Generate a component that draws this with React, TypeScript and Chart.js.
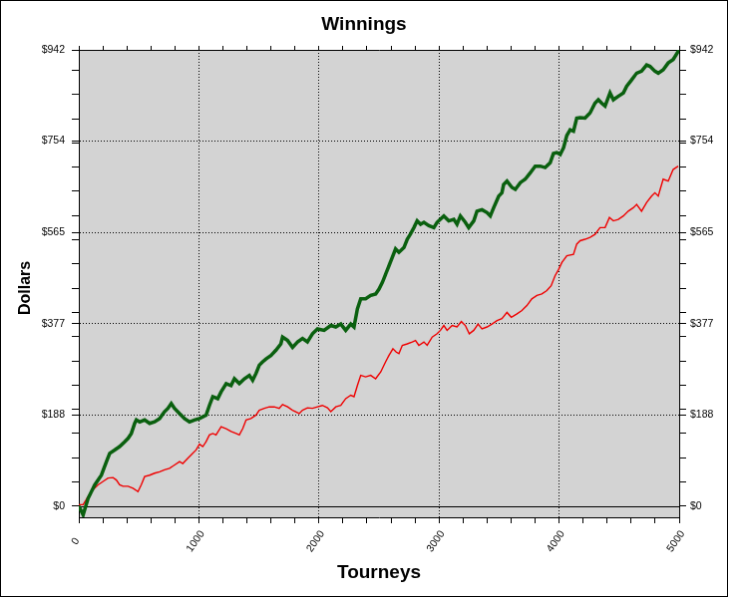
import { useEffect, useRef } from 'react';
import { Chart, registerables } from 'chart.js';

Chart.register(...registerables);

// ---- Data ----
const greenTourneys = [
  0, 36, 77, 133, 188, 230, 257, 299, 340, 382, 410, 437, 465, 479, 507, 548, 590, 631, 673, 714,
  742, 770, 797, 839, 880, 922, 963, 1005, 1060, 1088, 1116, 1157, 1185, 1227, 1268, 1296, 1337, 1379, 1420, 1448,
  1476, 1503, 1531, 1559, 1600, 1642, 1683, 1697, 1739, 1780, 1822, 1863, 1904, 1946, 1988, 2043, 2099, 2140, 2182, 2223,
  2265, 2292, 2320, 2348, 2389, 2431, 2472, 2500, 2528, 2555, 2583, 2611, 2638, 2666, 2708, 2735, 2763, 2791, 2818, 2846,
  2874, 2915, 2957, 2984, 3040, 3081, 3123, 3150, 3178, 3219, 3247, 3289, 3316, 3358, 3400, 3427, 3455, 3497, 3524, 3538,
  3566, 3607, 3635, 3677, 3718, 3760, 3801, 3843, 3884, 3926, 3953, 3981, 4009, 4037, 4064, 4092, 4120, 4147, 4175, 4216,
  4258, 4299, 4327, 4355, 4383, 4424, 4452, 4493, 4535, 4563, 4604, 4646, 4687, 4729, 4757, 4798, 4826, 4867, 4909, 4950,
  4992, 5000,
];
const greenDollars = [
  0, -18, 16, 44, 64, 92, 109, 116, 123, 133, 140, 150, 171, 178, 174, 178, 171, 174, 181, 195,
  202, 212, 202, 191, 181, 174, 178, 181, 188, 208, 226, 222, 236, 253, 249, 263, 253, 263, 270, 260,
  274, 291, 298, 304, 311, 322, 335, 349, 342, 328, 339, 346, 339, 356, 366, 363, 373, 370, 376, 363,
  376, 370, 407, 428, 428, 435, 438, 448, 462, 479, 496, 514, 531, 524, 534, 551, 562, 575, 589, 582,
  586, 579, 575, 586, 599, 589, 592, 582, 599, 586, 575, 589, 609, 612, 606, 599, 616, 640, 647, 664,
  671, 658, 654, 668, 675, 688, 702, 702, 699, 709, 728, 730, 726, 740, 765, 777, 774, 801, 802, 801,
  812, 832, 839, 832, 826, 853, 839, 846, 853, 867, 880, 894, 898, 911, 908, 898, 894, 901, 915, 922,
  939, 942,
];
const redTourneys = [
  0, 36, 77, 119, 160, 202, 243, 285, 313, 340, 368, 410, 451, 493, 520, 548, 590, 631, 673, 714,
  756, 797, 839, 866, 908, 949, 977, 1005, 1032, 1060, 1088, 1116, 1143, 1185, 1227, 1268, 1310, 1337, 1365, 1393,
  1434, 1476, 1503, 1545, 1586, 1628, 1669, 1697, 1739, 1780, 1836, 1863, 1904, 1946, 1988, 2029, 2071, 2099, 2140, 2182,
  2223, 2265, 2292, 2320, 2348, 2389, 2431, 2472, 2514, 2555, 2583, 2616, 2644, 2666, 2694, 2735, 2777, 2804, 2832, 2874,
  2901, 2943, 2984, 3012, 3040, 3067, 3109, 3150, 3186, 3219, 3252, 3289, 3325, 3358, 3400, 3441, 3483, 3524, 3566, 3602,
  3649, 3690, 3732, 3773, 3815, 3856, 3898, 3934, 3967, 3995, 4023, 4064, 4120, 4147, 4175, 4216, 4258, 4299, 4341, 4383,
  4419, 4452, 4493, 4535, 4576, 4618, 4646, 4687, 4729, 4770, 4798, 4826, 4867, 4909, 4950, 4992,
];
const redDollars = [
  3, 3, 20, 34, 44, 51, 58, 59, 54, 44, 41, 41, 37, 30, 44, 61, 64, 68, 71, 75,
  78, 85, 92, 88, 99, 109, 116, 128, 123, 133, 147, 150, 147, 164, 160, 154, 150, 147, 160, 178,
  181, 188, 198, 202, 205, 205, 202, 210, 205, 198, 191, 198, 203, 202, 205, 208, 203, 195, 205, 208,
  222, 229, 226, 249, 270, 267, 270, 263, 277, 298, 311, 325, 318, 315, 332, 335, 339, 342, 332, 339,
  332, 349, 356, 363, 373, 363, 373, 370, 381, 373, 356, 363, 376, 366, 370, 376, 383, 387, 400, 390,
  397, 404, 414, 428, 435, 438, 445, 455, 476, 488, 503, 517, 520, 541, 548, 551, 555, 561, 575, 575,
  596, 589, 592, 599, 609, 616, 623, 609, 627, 640, 647, 640, 675, 671, 695, 702,
];

const yMajorValues = [0, 188.4, 376.8, 565.2, 753.6, 942];
const yTickLabels = ['$0', '$188', '$377', '$565', '$754', '$942'];
const yMinorValues = [50, 100, 150, 200, 250, 300, 350, 400, 450, 500, 550, 600, 650, 700, 750, 800, 850, 900];
const xMajorValues = [0, 1000, 2000, 3000, 4000, 5000];
const xTickLabels = ['0', '1000', '2000', '3000', '4000', '5000'];
const xMinorValues = [200, 400, 600, 800, 1200, 1400, 1600, 1800, 2200, 2400, 2600, 2800, 3200, 3400, 3600, 3800, 4200, 4400, 4600, 4800];

const FONT = "'Liberation Sans', Arial, sans-serif";

const isMajorY = (v: number) => yMajorValues.some((m) => Math.abs(m - v) < 1e-6);
const isMajorX = (v: number) => xMajorValues.some((m) => Math.abs(m - v) < 1e-6);

const buildY = (axis: any) => {
  axis.ticks = [...yMajorValues, ...yMinorValues].sort((a, b) => a - b).map((v) => ({ value: v }));
};
const buildX = (axis: any) => {
  axis.ticks = [...xMajorValues, ...xMinorValues].sort((a, b) => a - b).map((v) => ({ value: v }));
};
const yLabel = (v: any) => {
  const i = yMajorValues.findIndex((m) => Math.abs(m - Number(v)) < 1e-6);
  return i >= 0 ? yTickLabels[i] : '';
};
// rotated labels are centred on their tick in the reference: pad short labels so that
// their visible centre lines up like the 4-digit ones
const xLabel = (v: any) => {
  const i = xMajorValues.findIndex((m) => Math.abs(m - Number(v)) < 1e-6);
  if (i < 0) return '';
  const s = xTickLabels[i];
  return s + ' '.repeat(Math.max(0, 4 - s.length));
};

const plotBg = {
  id: 'plotBg',
  beforeDraw(chart: any) {
    const { ctx, chartArea: a } = chart;
    ctx.save();
    ctx.fillStyle = '#d3d3d3';
    ctx.fillRect(a.left, a.top, a.right - a.left, a.bottom - a.top);
    ctx.restore();
  },
};

const zeroLine = {
  id: 'zeroLine',
  beforeDatasetsDraw(chart: any) {
    const { ctx, chartArea: a, scales } = chart;
    const y = Math.round(scales.y.getPixelForValue(0)) + 0.5;
    ctx.save();
    ctx.strokeStyle = '#000';
    ctx.lineWidth = 1;
    ctx.beginPath();
    ctx.moveTo(a.left, y);
    ctx.lineTo(a.right, y);
    ctx.stroke();
    ctx.restore();
  },
};

export default function App() {
  const ref = useRef<HTMLCanvasElement | null>(null);

  useEffect(() => {
    if (!ref.current) return;
    const tickFont = { family: FONT, size: 10.5 };

    const chart = new Chart(ref.current, {
      type: 'line',
      data: {
        datasets: [
          {
            label: 'Green',
            data: greenTourneys.map((t, i) => ({ x: t, y: greenDollars[i] })),
            borderColor: '#0a600f',
            borderWidth: 3.5,
            pointRadius: 0,
            tension: 0,
            fill: false,
          },
          {
            label: 'Red',
            data: redTourneys.map((t, i) => ({ x: t, y: redDollars[i] })),
            borderColor: '#f00000',
            borderWidth: 1.4,
            pointRadius: 0,
            tension: 0,
            fill: false,
          },
        ],
      },
      options: {
        animation: false,
        responsive: false,
        events: [],
        layout: { padding: 0 },
        plugins: {
          legend: { display: false },
          tooltip: { enabled: false },
          title: {
            display: true,
            text: 'Winnings',
            color: '#000',
            font: { family: FONT, size: 19, weight: 'bold', lineHeight: '20px' } as any,
            padding: { top: 14, bottom: 8 },
          },
        },
        scales: {
          x: {
            type: 'linear',
            position: 'bottom',
            min: 0,
            max: 5000,
            afterBuildTicks: buildX,
            afterFit: (s: any) => { s.height = 79; },
            ticks: {
              autoSkip: false,
              minRotation: 55,
              maxRotation: 55,
              padding: 5,
              labelOffset: 3.5,
              color: '#000',
              font: tickFont,
              callback: xLabel,
            },
            grid: {
              color: (c: any) => (c.tick && isMajorX(c.tick.value) && c.tick.value > 0 && c.tick.value < 5000 ? '#000' : 'rgba(0,0,0,0)'),
              tickColor: '#000',
              tickLength: 6,
              lineWidth: 1,
            },
            border: { display: true, color: '#000', width: 1, dash: [1, 2] },
            title: {
              display: true,
              text: 'Tourneys',
              color: '#000',
              font: { family: FONT, size: 19, weight: 'bold' },
              padding: { top: 0, bottom: 11.5 },
            },
          },
          x2: {
            type: 'linear',
            position: 'top',
            min: 0,
            max: 5000,
            afterBuildTicks: buildX,
            afterFit: (s: any) => { s.height = 7; },
            ticks: { display: false, autoSkip: false },
            grid: { drawOnChartArea: false, tickColor: '#000', tickLength: 4 },
            border: { display: true, color: '#000', width: 1 },
          },
          y: {
            type: 'linear',
            position: 'left',
            min: -23,
            max: 942,
            afterBuildTicks: buildY,
            afterFit: (s: any) => { s.width = 78; },
            ticks: { autoSkip: false, padding: 7, color: '#000', font: tickFont, callback: yLabel },
            grid: {
              color: (c: any) => (c.tick && isMajorY(c.tick.value) && c.tick.value > 0 && c.tick.value < 942 ? '#000' : 'rgba(0,0,0,0)'),
              tickColor: '#000',
              tickLength: 7,
              lineWidth: 1,
            },
            border: { display: true, color: '#000', width: 1, dash: [1, 2] },
            title: {
              display: true,
              text: 'Dollars  ',
              color: '#000',
              font: { family: FONT, size: 16, weight: 'bold' },
              padding: { top: 14.5, bottom: 0 },
            },
          },
          y2: {
            type: 'linear',
            position: 'right',
            min: -23,
            max: 942,
            afterBuildTicks: buildY,
            afterFit: (s: any) => { s.width = 48; },
            ticks: { autoSkip: false, padding: 4, color: '#000', font: tickFont, callback: yLabel },
            grid: { drawOnChartArea: false, tickColor: '#000', tickLength: 7 },
            border: { display: true, color: '#000', width: 1 },
          },
        },
      } as any,
      plugins: [plotBg, zeroLine],
    });
    return () => chart.destroy();
  }, []);

  return (
    <div style={{ position: 'fixed', left: 0, top: 0, width: 730, height: 599, background: '#fff' }}>
      <canvas
        ref={ref}
        width={728}
        height={597}
        style={{ display: 'block', width: 728, height: 597, border: '1px solid #000' }}
      />
    </div>
  );
}
